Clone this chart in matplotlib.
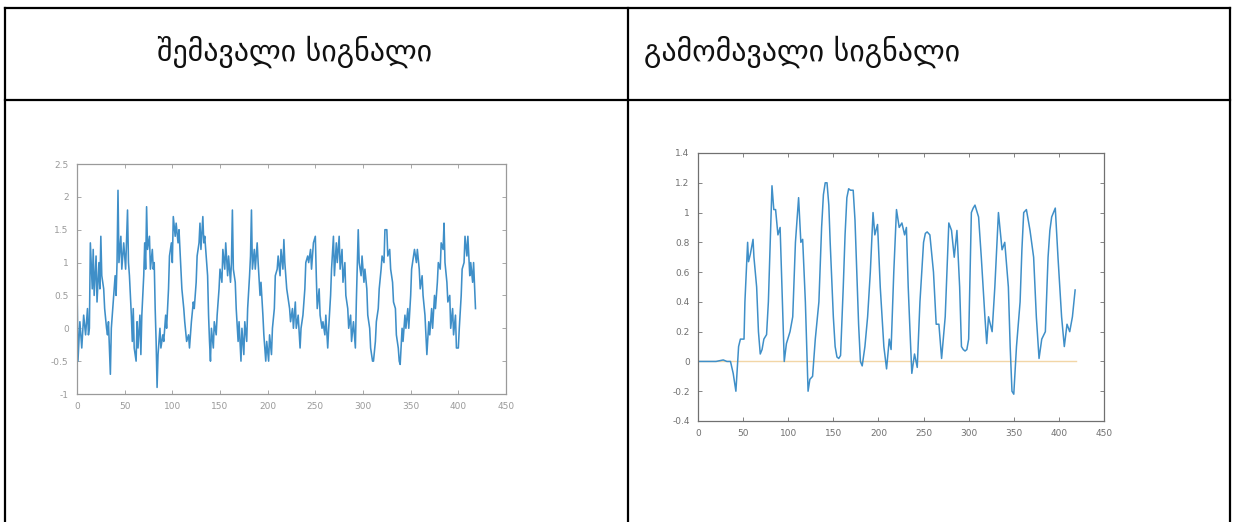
import matplotlib
matplotlib.use("Agg")
import matplotlib.pyplot as plt
from matplotlib.lines import Line2D

# header texts
title_in = "შემავალი სიგნალი"
title_out = "გამომავალი სიგნალი"

# input signal
in_x = [0, 1, 3, 5, 7, 9, 11, 12, 13, 14, 16, 17, 18, 20, 21, 23, 24, 25, 26, 28,
        29, 31, 32, 33, 35, 36, 38, 40, 41, 42, 43, 44, 46, 47, 49, 50, 51, 53, 54, 55,
        57, 58, 59, 60, 62, 63, 64, 66, 67, 68, 70, 71, 72, 73, 74, 76, 77, 79, 80, 81,
        82, 83, 84, 85, 87, 88, 90, 91, 93, 94, 96, 97, 99, 100, 101, 103, 104, 106, 107, 108,
        110, 112, 113, 115, 117, 118, 120, 122, 123, 125, 126, 128, 129, 130, 132, 133, 134, 136, 137, 138,
        139, 140, 141, 143, 144, 146, 147, 149, 150, 152, 153, 155, 156, 158, 159, 161, 162, 163, 164, 166,
        167, 169, 170, 172, 173, 175, 176, 178, 179, 181, 182, 183, 184, 186, 187, 189, 190, 192, 193, 195,
        196, 198, 199, 201, 202, 204, 205, 207, 208, 210, 211, 213, 214, 216, 217, 218, 220, 221, 223, 224,
        226, 227, 229, 230, 232, 234, 235, 237, 239, 240, 242, 243, 245, 246, 248, 250, 251, 252, 254, 255,
        257, 258, 260, 261, 263, 264, 266, 267, 269, 270, 272, 273, 275, 276, 278, 279, 281, 282, 284, 285,
        287, 288, 290, 292, 293, 295, 296, 298, 299, 301, 302, 304, 305, 307, 308, 310, 311, 313, 314, 316,
        317, 319, 320, 322, 323, 325, 326, 328, 329, 331, 332, 334, 335, 337, 338, 339, 341, 342, 344, 345,
        347, 348, 350, 351, 353, 354, 356, 357, 359, 360, 362, 363, 365, 366, 367, 369, 370, 372, 373, 375,
        376, 378, 379, 381, 382, 384, 385, 386, 388, 389, 391, 392, 394, 395, 397, 398, 400, 401, 403, 404,
        406, 407, 409, 410, 412, 413, 415, 416, 418]
in_y = [0.7, -0.5, 0.1, -0.3, 0.2, -0.1, 0.3, -0.1, 0.0, 1.3, 0.6, 1.2, 0.5, 1.1, 0.4, 1.0, 0.6, 1.4, 0.8, 0.6,
        0.3, 0.0, -0.1, 0.1, -0.7, 0.0, 0.4, 0.8, 0.5, 1.0, 2.1, 1.0, 1.4, 0.9, 1.3, 1.1, 0.9, 1.8, 1.0, 0.8,
        0.2, -0.2, 0.3, -0.3, -0.5, 0.1, -0.3, 0.2, -0.4, 0.2, 0.8, 1.3, 0.9, 1.85, 1.2, 1.4, 0.9, 1.2, 0.9, 1.0,
        0.3, -0.2, -0.9, -0.4, 0.0, -0.3, -0.1, -0.2, 0.2, 0.0, 0.6, 1.1, 1.3, 1.0, 1.7, 1.4, 1.6, 1.3, 1.5, 1.2,
        0.6, 0.3, 0.1, -0.2, -0.1, -0.3, 0.1, 0.4, 0.3, 0.7, 1.1, 1.3, 1.6, 1.2, 1.7, 1.3, 1.4, 1.0, 0.8, 0.2,
        -0.2, -0.5, 0.0, -0.3, 0.1, -0.1, 0.2, 0.6, 0.9, 0.7, 1.2, 0.9, 1.3, 0.8, 1.1, 0.7, 1.0, 1.8, 0.9, 0.7,
        0.3, -0.2, 0.1, -0.5, 0.0, -0.4, 0.1, -0.2, 0.3, 0.8, 1.1, 1.8, 0.9, 1.2, 0.9, 1.3, 1.0, 0.5, 0.7, 0.2,
        -0.1, -0.5, -0.2, -0.5, -0.1, -0.4, 0.0, 0.3, 0.8, 0.9, 1.1, 0.8, 1.2, 0.9, 1.35, 1.0, 0.6, 0.5, 0.3, 0.1,
        0.3, 0.0, 0.4, 0.0, 0.2, -0.3, 0.0, 0.2, 0.6, 1.0, 1.1, 1.0, 1.2, 0.9, 1.3, 1.4, 0.8, 0.3, 0.6, 0.2,
        0.0, 0.1, -0.1, 0.2, -0.3, 0.0, 0.5, 0.9, 1.4, 0.8, 1.3, 1.0, 1.4, 0.9, 1.2, 0.7, 1.0, 0.5, 0.3, 0.0,
        0.2, -0.2, 0.1, -0.3, 0.4, 1.5, 1.0, 0.8, 1.1, 0.7, 0.9, 0.6, 0.2, 0.0, -0.3, -0.5, -0.5, -0.2, 0.1, 0.3,
        0.6, 0.9, 1.1, 1.0, 1.5, 1.5, 1.1, 1.2, 0.9, 0.7, 0.4, 0.3, -0.1, -0.3, -0.5, -0.55, 0.0, -0.2, 0.2, 0.0,
        0.3, 0.0, 0.5, 0.9, 1.1, 1.2, 1.0, 1.2, 0.9, 0.6, 0.8, 0.5, 0.2, -0.1, -0.4, 0.1, -0.1, 0.3, 0.0, 0.5,
        0.3, 0.7, 1.0, 0.9, 1.3, 1.2, 1.6, 1.0, 0.7, 0.4, 0.5, 0.0, 0.3, -0.1, 0.2, -0.3, -0.3, 0.0, 0.5, 0.9,
        1.0, 1.4, 1.1, 1.4, 0.8, 1.0, 0.7, 1.0, 0.3]

# output signal
out_x = [0, 10, 20, 28, 32, 36, 39, 42, 45, 47, 51, 52, 55, 56, 58, 61, 62, 65, 67, 69,
         71, 73, 76, 78, 80, 82, 84, 86, 88.6, 91, 93, 95.6, 98, 102, 105, 108, 111.5, 114, 116, 119, 122,
         124, 127, 130, 134, 137, 139, 141, 143, 145, 146.5, 150, 152, 154, 156, 158, 161, 163, 165, 167, 169, 172, 174,
         176, 178, 180, 182, 185, 188, 191, 194, 196, 199, 202, 206, 209, 212, 214, 217, 220, 223, 226, 229, 231, 233,
         235, 237, 240, 243, 246, 250, 252, 254, 257, 261, 264, 267, 270, 274, 278, 281, 284, 287, 290, 292,
         294, 296, 298, 300, 303, 305, 307, 311, 314, 318, 320, 322, 326, 329, 333, 337, 340, 344, 346, 348,
         350, 353, 357, 359, 361, 364, 368, 372, 375, 378, 381, 385, 388, 390, 392, 394, 396, 399, 403, 406,
         409, 412, 415, 418]
out_y = [0.0, 0.0, 0.0, 0.01, 0.0, 0.0, -0.08, -0.2, 0.1, 0.15, 0.15, 0.4, 0.8, 0.67, 0.72, 0.82, 0.7, 0.5, 0.2, 0.05,
         0.08, 0.15, 0.18, 0.4, 0.8, 1.18, 1.02, 1.02, 0.85, 0.9, 0.5, 0.0, 0.12, 0.2, 0.3, 0.8, 1.1, 0.8, 0.82, 0.4, -0.2,
         -0.12, -0.1, 0.15, 0.4, 0.9, 1.12, 1.2, 1.2, 1.05, 0.8, 0.3, 0.1, 0.03, 0.02, 0.04, 0.5, 0.85, 1.1, 1.16, 1.15, 1.15, 0.95,
         0.6, 0.25, 0.0, -0.03, 0.1, 0.3, 0.6, 1.0, 0.85, 0.92, 0.5, 0.1, -0.05, 0.15, 0.08, 0.6, 1.02, 0.9, 0.93, 0.85, 0.9, 0.5,
         0.2, -0.08, 0.05, -0.04, 0.4, 0.8, 0.86, 0.87, 0.85, 0.6, 0.25, 0.25, 0.02, 0.3, 0.93, 0.88, 0.7, 0.88, 0.5, 0.1,
         0.08, 0.07, 0.08, 0.15, 1.0, 1.03, 1.05, 0.97, 0.7, 0.3, 0.12, 0.3, 0.2, 0.5, 1.0, 0.75, 0.8, 0.5, 0.1, -0.2,
         -0.22, 0.1, 0.4, 0.75, 1.0, 1.02, 0.88, 0.7, 0.3, 0.02, 0.15, 0.2, 0.7, 0.88, 0.97, 1.0, 1.03, 0.7, 0.3, 0.1,
         0.25, 0.2, 0.3, 0.48]
ref_x = [0, 419]
ref_y = [0, 0]

W, H = 1236, 522
fig = plt.figure(figsize=(W / 100, H / 100), dpi=100)
fig.patch.set_facecolor("white")


def fx(px):
    return px / W


def fy(py):
    return 1 - py / H


# table grid
for (x0, y0, x1, y1) in [(5, 8, 1230, 8), (5, 100, 1230, 100),
                         (5, 8, 5, 522), (628, 8, 628, 522), (1230, 8, 1230, 522)]:
    fig.add_artist(Line2D([fx(x0), fx(x1)], [fy(y0), fy(y1)], color="black",
                          linewidth=1.6, solid_capstyle="projecting"))

fig.text(fx(295), fy(52), title_in, fontsize=21.5, family="DejaVu Sans",
         ha="center", va="center", color="#111111")
fig.text(fx(644), fy(52), title_out, fontsize=21.5, family="DejaVu Sans",
         ha="left", va="center", color="#111111")

# left panel: input
ax1 = fig.add_axes([fx(77), fy(394), fx(506) - fx(77), fy(164) - fy(394)])
ax1.plot(in_x, in_y, color="#3f8fc8", linewidth=1.15)
ax1.set_xlim(0, 450)
ax1.set_ylim(-1, 2.5)
ax1.set_xticks(range(0, 451, 50))
ax1.set_yticks([-1, -0.5, 0, 0.5, 1, 1.5, 2, 2.5])
ax1.set_yticklabels(["-1", "-0.5", "0", "0.5", "1", "1.5", "2", "2.5"])

# right panel: output
ax2 = fig.add_axes([fx(698), fy(421), fx(1104) - fx(698), fy(153) - fy(421)])
ax2.plot(ref_x, ref_y, color="#f2d6a6", linewidth=1.0)
ax2.plot(out_x, out_y, color="#3f8fc8", linewidth=1.1)
ax2.set_xlim(0, 450)
ax2.set_ylim(-0.4, 1.4)
ax2.set_xticks(range(0, 451, 50))
ax2.set_yticks([-0.4, -0.2, 0, 0.2, 0.4, 0.6, 0.8, 1, 1.2, 1.4])
ax2.set_yticklabels(["-0.4", "-0.2", "0", "0.2", "0.4", "0.6", "0.8", "1", "1.2", "1.4"])

for ax, c in [(ax1, "#9a9a9a"), (ax2, "#707070")]:
    for s in ax.spines.values():
        s.set_color(c)
        s.set_linewidth(0.9)
    ax.tick_params(direction="in", top=True, right=True, length=3, width=0.6,
                   color=c, labelcolor=c, labelsize=6.5, pad=6)

fig.savefig("out.png", dpi=100, facecolor="white")
